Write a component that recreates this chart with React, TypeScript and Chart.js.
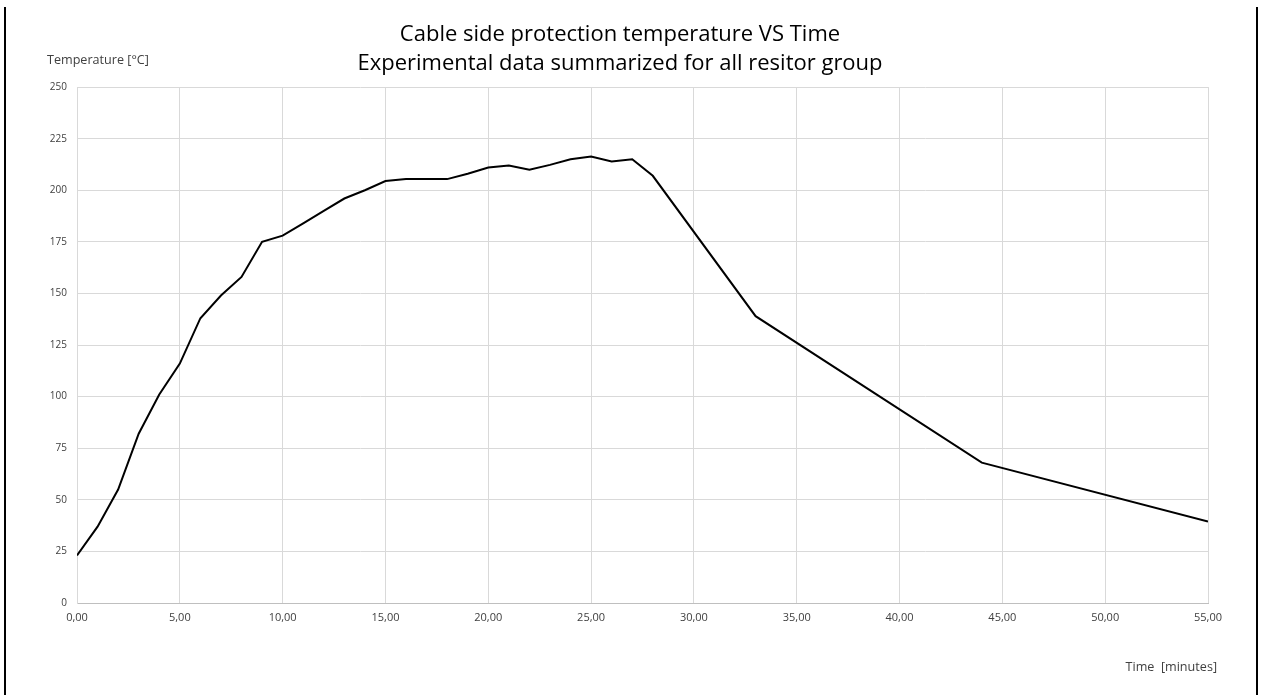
import React, { useEffect, useRef } from "react";
import { Chart, registerables } from "chart.js";

Chart.register(...registerables);

const timeMinutes = [0, 1, 2, 3, 4, 5, 6, 7, 8, 9, 10, 11, 12, 13, 14, 15, 16, 17, 18, 19, 20, 21, 22, 23, 24, 25, 26, 27, 28, 33, 44, 55];
const temperature = [23, 37, 55, 82, 101, 116, 138, 149, 158, 175, 178, 184, 190, 196, 200, 204.5, 205.4, 205.4, 205.4, 208, 211, 212, 210, 212.3, 215, 216.3, 214, 215, 207, 139, 68, 39.5];
const titleLines = ["Cable side protection temperature VS Time", "Experimental data summarized for all resitor group"];
const yAxisTitle = "Temperature [°C]";
const xAxisTitle = "Time  [minutes]";

const FONT = "'Open Sans', 'Noto Sans', sans-serif";

const decorPlugin = {
  id: "decor",
  afterDraw(chart: any) {
    const ctx = chart.ctx;
    ctx.save();
    ctx.strokeStyle = "#000";
    ctx.lineWidth = 2;
    ctx.beginPath();
    ctx.moveTo(5, 7);
    ctx.lineTo(5, 695);
    ctx.moveTo(1257, 7);
    ctx.lineTo(1257, 695);
    ctx.stroke();
    ctx.fillStyle = "#404040";
    ctx.font = "12.6px " + FONT;
    ctx.textBaseline = "middle";
    ctx.textAlign = "left";
    ctx.fillText(yAxisTitle, 47, 60);
    ctx.textAlign = "right";
    ctx.fillText(xAxisTitle, 1217, 667);
    ctx.restore();
  },
};

export default function App() {
  const ref = useRef<HTMLCanvasElement | null>(null);
  useEffect(() => {
    document.body.style.margin = "0";
    const canvas = ref.current!;
    const chart = new Chart(canvas, {
      type: "line",
      data: {
        datasets: [
          {
            data: timeMinutes.map((t, i) => ({ x: t, y: temperature[i] })),
            borderColor: "#000000",
            borderWidth: 2,
            pointRadius: 0,
            tension: 0,
            fill: false,
          },
        ],
      },
      options: {
        animation: false,
        responsive: false,
        layout: { padding: { left: 32, right: 55, top: 0, bottom: 0 } },
        plugins: {
          legend: { display: false },
          tooltip: { enabled: false },
          title: {
            display: true,
            text: titleLines,
            color: "#000000",
            font: { family: FONT, size: 22, weight: "normal", lineHeight: 1.32 },
            padding: { top: 20, bottom: 9 },
          },
        },
        scales: {
          x: {
            type: "linear",
            min: 0,
            max: 55,
            ticks: {
              stepSize: 5,
              color: "#404040",
              font: { family: FONT, size: 11 },
              padding: 8,
              maxRotation: 0,
              callback: (v: any) => Number(v).toFixed(2).replace(".", ","),
            },
            grid: { color: "#d9d9d9", drawTicks: false, lineWidth: 1 },
            border: { color: "#bfbfbf" },
            afterFit: (s: any) => {
              s.height = 92;
            },
          },
          y: {
            min: 0,
            max: 250,
            ticks: {
              stepSize: 25,
              color: "#404040",
              font: { family: FONT, size: 10 },
              padding: 10,
            },
            grid: { color: "#d9d9d9", drawTicks: false, lineWidth: 1 },
            border: { color: "#d9d9d9" },
            afterFit: (s: any) => {
              s.width = 45;
            },
          },
        },
      },
      plugins: [decorPlugin],
    });
    return () => chart.destroy();
  }, []);
  return <canvas ref={ref} width={1263} height={695} style={{ display: "block" }} />;
}
